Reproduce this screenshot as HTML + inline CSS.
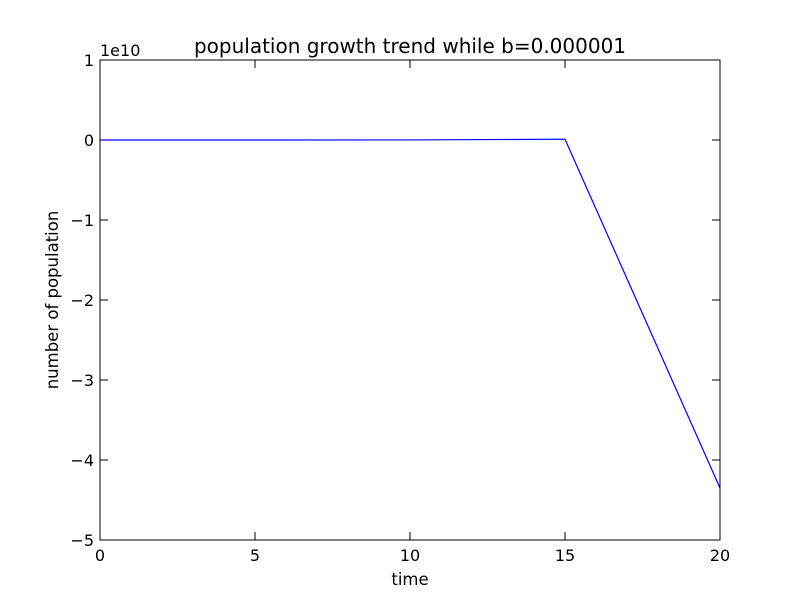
<!DOCTYPE html>
<html><head><meta charset="utf-8"><style>
body{margin:0;background:#fff;}
svg text{font-family:"DejaVu Sans","Liberation Sans",sans-serif;}
</style></head><body>
<svg id="chart" width="800" height="600" xmlns="http://www.w3.org/2000/svg">
<rect width="800" height="600" fill="#fff"/>
<g id="ticks"></g>
<path id="line" fill="none" stroke="#0000ff" stroke-width="1.2"/>
<rect x="100" y="60" width="620" height="480" fill="none" stroke="#000" stroke-width="1"/>
<text x="410" y="53" font-size="20" text-anchor="middle">population growth trend while b=0.000001</text>
<text x="100" y="56" font-size="16">1e10</text>
<text x="410" y="585" font-size="16.5" text-anchor="middle">time</text>
<text x="58" y="300" font-size="16.5" text-anchor="middle" transform="rotate(-90 58 300)">number of population</text>
</svg>
<script>
const times=[0,5,10,15,20];
const population=[0,0,0.001,0.01,-4.35];
const xTicks=[0,5,10,15,20];
const yTicks=[1,0,-1,-2,-3,-4,-5];
const yTickLabels=["1","0","\u22121","\u22122","\u22123","\u22124","\u22125"];
const X=v=>100+(v-0)/20*620;
const Y=v=>60+(1-v)/6*480;
const ns="http://www.w3.org/2000/svg";
const g=document.getElementById('ticks');
function mk(t,a){const e=document.createElementNS(ns,t);for(const k in a)e.setAttribute(k,a[k]);return e;}
xTicks.forEach(v=>{
  const x=X(v);
  const t1=mk('line',{x1:x,x2:x,y1:540,y2:532,stroke:'#000'});
  
  
  g.appendChild(t1);
  const t2=mk('line',{x1:x,x2:x,y1:60,y2:68,stroke:'#000'});
  
  
  g.appendChild(t2);
  const l=mk('text',{x:x,y:561,'font-size':16,'text-anchor':'middle'});
  l.textContent=v;
  
  
  g.appendChild(l);
});
yTicks.forEach((v,i)=>{
  const y=Y(v);
  const t1=mk('line',{x1:100,x2:108,y1:y,y2:y,stroke:'#000'});
  
  
  g.appendChild(t1);
  const t2=mk('line',{x1:712,x2:720,y1:y,y2:y,stroke:'#000'});
  
  
  g.appendChild(t2);
  const l=mk('text',{x:94,y:y+6,'font-size':16,'text-anchor':'end'});
  l.textContent=yTickLabels[i];
  
  
  g.appendChild(l);
});
document.getElementById('line').setAttribute('d',times.map((t,i)=>(i?'L':'M')+X(t)+','+Y(population[i])).join(' '));
</script>
</body></html>
